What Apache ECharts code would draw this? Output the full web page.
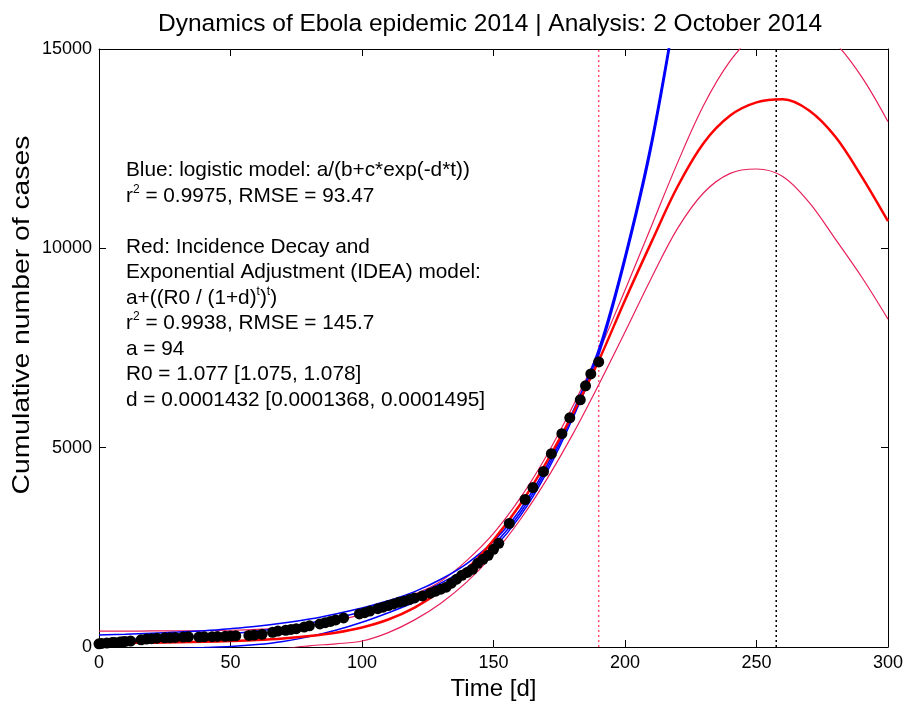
<!DOCTYPE html>
<html><head><meta charset="utf-8">
<script src="https://cdn.jsdelivr.net/npm/echarts@6/dist/echarts.min.js"></script>
<style>html,body{margin:0;padding:0;background:#fff}#c{width:903px;height:702px}</style>
</head><body><div id="c"></div>
<script>
// ---- data ----
const xTicks = [0, 50, 100, 150, 200, 250, 300];
const yTicks = [0, 5000, 10000, 15000];
const dataDays  = [0,1,3,5,6,8,9,10,12,16,18,20,22,25,27,29,32,34,38,40,43,45,48,50,52,57,59,62,66,68,71,73,75,78,80,84,86,88,90,93,99,101,103,106,108,110,112,114,116,118,120,123,126,128,130,132,134,136,138,140,142,144,146,148,150,152,156,162,165,169,172,176,179,183,185,187,190];
const dataCases = [80,90,100,110,115,125,130,140,150,180,200,210,220,230,235,240,250,255,250,255,260,265,270,275,280,290,300,320,370,400,420,440,460,500,530,580,610,640,680,730,830,860,900,960,1000,1040,1080,1120,1150,1190,1230,1280,1350,1400,1450,1500,1600,1700,1800,1870,1950,2100,2200,2300,2450,2600,3100,3700,4000,4400,4850,5350,5750,6200,6550,6850,7150];

const redDays  = [0,10,20,30,40,50,60,70,80,90,100,110,120,130,140,150,160,170,180,190,200,210,220,230,240,250,260,270,280,290,300];
const redFit   = [95,100,108,118,132,150,175,215,275,360,490,690,990,1410,1960,2680,3560,4620,5830,7180,8700,10150,11550,12650,13330,13660,13740,13460,12800,11800,10680];
const redUpper = [400,400,402,405,410,420,440,480,550,660,820,1040,1320,1650,2180,2850,3720,4780,6020,7400,8950,10550,12150,13600,14700,15400,15700,15650,15150,14300,13175];
const redLowerDays = [60,70,80,90,100,110,120,130,140,150,160,170,180,190,200,210,220,230,240,250,260,270,280,290,300];
const redLower = [-220,-50,30,80,150,360,680,1100,1640,2330,3180,4180,5320,6580,7900,9250,10500,11400,11880,11990,11800,11150,10230,9280,8225];

const blueDays  = [0,10,20,30,40,50,60,70,80,90,100,110,120,130,140,150,160,170,180,190,200,210,220];
const blueFit   = [170,190,215,245,280,330,400,490,600,730,880,1060,1290,1600,2000,2560,3350,4430,5800,7400,9750,12600,16300];
const blueUpper = [300,320,345,375,410,460,520,600,700,830,980,1160,1390,1700,2100,2650,3430,4510,5880,7480,9830,12700,16400];
const blueLower = [-220,-150,-70,-40,-15,10,60,140,260,420,620,860,1130,1480,1900,2470,3270,4350,5720,7320,9670,12500,16200];

const lastDataDay = 190;
const peakDay = 257.5;

const FONT = "'Liberation Sans', Arial, sans-serif";
const pairs = (xs, ys) => xs.map((x, i) => [x, ys[i]]);

const chart = echarts.init(document.getElementById('c'), null, {renderer: 'canvas'});
const lineS = (name, xs, ys, color, width) => ({
  name, type: 'line', data: pairs(xs, ys), showSymbol: false, smooth: 0.35,
  lineStyle: {color, width}, clip: true, silent: true, z: 2
});
const axisLineStyle = {show: true, onZero: false, lineStyle: {color: '#000', width: 1}};
const tickStyle = {show: true, inside: true, length: 7, lineStyle: {color: '#000'}};

chart.setOption({
  animation: false,
  backgroundColor: '#fff',
  grid: {left: 99, right: 15, top: 49, bottom: 55, show: false, containLabel: false, outerBoundsMode: 'none'},
  xAxis: [
    {type: 'value', min: 0, max: 300, interval: 50, position: 'bottom',
     name: 'Time [d]', nameLocation: 'middle', nameGap: 26,
     nameTextStyle: {fontFamily: FONT, fontSize: 24, color: '#000'},
     axisLine: axisLineStyle, axisTick: tickStyle,
     axisLabel: {fontFamily: FONT, fontSize: 18, color: '#000', margin: 7,
                 formatter: v => xTicks.includes(v) ? String(v) : ''},
     splitLine: {show: false}},
    {type: 'value', min: 0, max: 300, interval: 50, position: 'top',
     axisLine: axisLineStyle, axisTick: tickStyle,
     axisLabel: {show: false}, splitLine: {show: false}}
  ],
  yAxis: [
    {type: 'value', min: 0, max: 15000, interval: 5000, position: 'left',
     axisLine: axisLineStyle, axisTick: tickStyle,
     axisLabel: {fontFamily: FONT, fontSize: 18, color: '#000', margin: 7,
                 formatter: v => yTicks.includes(v) ? String(v) : ''},
     splitLine: {show: false}},
    {type: 'value', min: 0, max: 15000, interval: 5000, position: 'right',
     axisLine: axisLineStyle, axisTick: tickStyle,
     axisLabel: {show: false}, splitLine: {show: false}}
  ],
  graphic: [
    {type: 'text', x: 490, y: 24,
     style: {text: 'Dynamics of Ebola epidemic 2014 | Analysis: 2 October 2014',
             font: '24.5px ' + FONT, fill: '#000', align: 'center', verticalAlign: 'middle'}},
    {type: 'text', x: 22, y: 315, rotation: Math.PI / 2, scaleX: 1.18,
     style: {text: 'Cumulative number of cases',
             font: '24px ' + FONT, fill: '#000', align: 'center', verticalAlign: 'middle'}},
    {type: 'text', x: 126, y: 158,
     style: {
       text: 'Blue: logistic model: a/(b+c*exp(-d*t))\nr{sup|2} = 0.9975, RMSE = 93.47\n \nRed: Incidence Decay and\nExponential Adjustment (IDEA) model:\na+((R0 / (1+d){sup|t}){sup|t})\nr{sup|2} = 0.9938, RMSE = 145.7\na = 94\nR0 = 1.077 [1.075, 1.078]\nd = 0.0001432 [0.0001368, 0.0001495]',
       font: '20.8px ' + FONT, fill: '#000', lineHeight: 25.5,
       rich: {sup: {fontSize: 12, fontFamily: FONT, verticalAlign: 'top', lineHeight: 25.5, padding: [0, 0, 8, 0]}}
     }}
  ],
  series: [
    {name: 'lastData', type: 'line', data: [[lastDataDay, 0], [lastDataDay, 15000]], showSymbol: false,
     lineStyle: {color: '#ff5070', width: 1.5, type: [2, 3]}, silent: true, z: 1},
    {name: 'peak', type: 'line', data: [[peakDay, 0], [peakDay, 15000]], showSymbol: false,
     lineStyle: {color: '#000', width: 1.5, type: [2, 3]}, silent: true, z: 1},
    lineS('redLower', redLowerDays, redLower, '#e8205a', 1.2),
    lineS('redUpper', redDays, redUpper, '#e8205a', 1.2),
    lineS('blueLower', blueDays, blueLower, '#0000ff', 1.5),
    lineS('blueUpper', blueDays, blueUpper, '#0000ff', 1.5),
    lineS('blueFit', blueDays, blueFit, '#0000ff', 1.5),
    lineS('redFit', redDays, redFit, '#ff0000', 2.5),
    {name: 'data', type: 'scatter', data: pairs(dataDays, dataCases), symbol: 'circle', symbolSize: 11,
     itemStyle: {color: '#000', opacity: 1}, silent: true, z: 5}
  ]
});
</script>
</body></html>
